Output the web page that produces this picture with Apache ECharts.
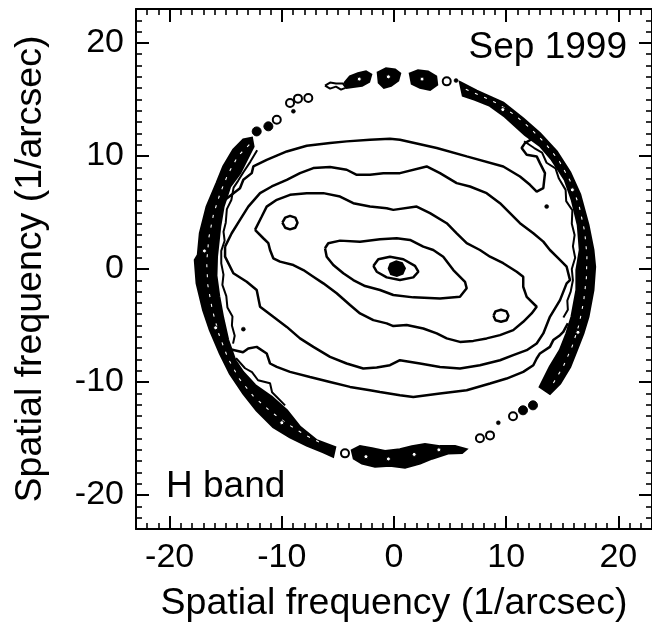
<!DOCTYPE html>
<html>
<head>
<meta charset="utf-8">
<script src="https://cdn.jsdelivr.net/npm/echarts@6/dist/echarts.min.js"></script>
<style>
html, body { margin: 0; padding: 0; background: #fff; }
#chart { width: 652px; height: 625px; }
</style>
</head>
<body>
<div id="chart"></div>
<script>
// ---- axes and labels ----
const axisMin = -23;
const axisMax = 23;
const majorTicks = [-20, -10, 0, 10, 20];
const axisTitle = 'Spatial frequency (1/arcsec)';
const epochLabel = 'Sep 1999';
const bandLabel = 'H band';

// ---- power spectrum contours, [u, v] in 1/arcsec ----
// peak (filled)
const contourPeak = [[-0.45,0.05],[-0.3,0.45],[0.2,0.65],[0.7,0.5],[0.95,0.05],[0.75,-0.4],[0.25,-0.6],[-0.25,-0.45],[-0.45,0.05]];
const contourLevel1 = [[-1.84,0.27],[-1.40,0.86],[-0.36,1.09],[0.83,0.86],[1.87,0.27],[2.17,-0.24],[1.72,-0.74],[0.53,-0.98],[-0.65,-0.74],[-1.54,-0.24],[-1.84,0.27]];
const contourLevel2 = [[-6.15,1.84],[-5.86,2.28],[-4.81,2.51],[-3.03,2.42],[-1.25,2.63],[0.24,2.72],[1.43,2.57],[2.61,1.98],[3.50,1.68],[4.39,1.09],[5.29,-0.09],[6.33,-1.13],[6.48,-1.71],[5.88,-2.46],[4.10,-2.60],[1.72,-2.51],[-0.06,-2.30],[-1.25,-1.86],[-2.58,-1.51],[-3.63,-0.98],[-4.52,-0.38],[-5.41,0.35],[-6.00,1.09],[-6.15,1.84]];
const contourLevel3 = [[-12.39,3.46],[-11.79,4.64],[-11.35,5.52],[-10.45,6.12],[-9.27,6.56],[-7.78,6.71],[-6.30,6.71],[-4.81,6.41],[-3.63,5.82],[-2.14,5.52],[-0.65,5.38],[-0.06,5.23],[2.02,5.52],[3.21,4.94],[4.70,4.05],[5.59,3.16],[6.48,2.28],[7.66,1.68],[8.56,1.09],[9.74,0.51],[10.94,-0.24],[11.52,-0.68],[11.52,-1.57],[11.83,-2.46],[12.72,-3.34],[12.27,-3.93],[11.52,-4.67],[10.63,-5.41],[9.45,-5.85],[8.26,-6.14],[7.07,-6.36],[5.88,-6.45],[4.70,-6.14],[3.81,-5.70],[2.61,-5.26],[1.13,-4.96],[-0.06,-5.05],[-0.65,-4.81],[-1.84,-4.52],[-3.03,-3.93],[-3.92,-3.19],[-5.11,-2.15],[-6.30,-1.27],[-7.19,-0.68],[-8.08,-0.09],[-8.97,0.35],[-10.16,0.65],[-10.76,0.95],[-11.05,1.68],[-11.20,2.28],[-11.65,2.72],[-12.39,3.46]];
const islandWest = [[-9.95,4.1],[-9.7,4.55],[-9.27,4.7],[-8.8,4.55],[-8.6,4.1],[-8.8,3.65],[-9.27,3.5],[-9.7,3.65],[-9.95,4.1]];
const islandEast = [[8.87,-4.14],[9.05,-3.75],[9.54,-3.6],[10.03,-3.75],[10.2,-4.14],[10.03,-4.53],[9.54,-4.67],[9.05,-4.53],[8.87,-4.14]];
const contourLevel4 = [[-15.06,1.98],[-14.47,3.16],[-13.73,4.34],[-12.99,5.52],[-11.94,6.71],[-10.90,7.30],[-9.56,7.89],[-8.38,8.48],[-7.19,8.93],[-5.70,9.02],[-4.22,8.78],[-3.32,8.33],[-2.14,8.33],[-0.95,8.48],[0.53,8.48],[2.91,9.07],[4.10,8.48],[5.59,7.60],[6.77,7.30],[8.26,6.71],[9.45,5.82],[10.34,4.94],[11.23,4.05],[12.42,3.16],[13.31,2.42],[13.90,1.68],[14.50,1.09],[15.39,0.20],[15.69,-0.98],[15.39,-1.27],[14.80,-2.75],[13.90,-4.23],[13.31,-5.70],[12.72,-6.59],[11.83,-7.18],[10.63,-7.62],[9.45,-8.07],[7.66,-8.51],[5.88,-8.80],[4.10,-8.66],[2.32,-8.36],[0.53,-8.07],[-0.36,-8.51],[-1.54,-8.71],[-2.74,-8.80],[-4.22,-8.36],[-5.70,-7.77],[-7.19,-6.89],[-8.38,-6.14],[-9.56,-5.12],[-10.76,-4.23],[-11.94,-3.34],[-12.24,-1.86],[-13.13,-1.13],[-14.32,-0.38],[-15.06,1.09],[-15.06,1.98]];
// outermost smooth level, opening into the noisy rim on both sides
const contourLevel5North = [[-15.5,5.7],[-15.06,6.12],[-13.73,7.15],[-13.43,7.89],[-12.68,8.48],[-12.54,9.07],[-11.35,9.66],[-9.56,10.40],[-7.78,10.90],[-5.70,11.14],[-4.22,11.29],[-2.14,11.44],[-0.36,11.52],[0.53,11.44],[3.81,10.70],[6.48,9.96],[9.74,9.07],[11.23,8.18],[12.12,7.45],[12.72,6.85],[13.31,7.15],[13.46,8.48],[13.01,9.37],[12.72,9.96],[11.83,10.11],[11.38,10.70],[11.67,11.14],[12.3,11.5]];
const contourLevel5South = [[15.5,-4.8],[15.09,-5.56],[14.80,-5.85],[14.20,-6.29],[13.90,-6.89],[13.01,-7.47],[12.72,-7.92],[12.42,-8.51],[11.52,-9.10],[10.04,-9.69],[8.56,-10.13],[6.48,-10.73],[4.10,-11.02],[1.72,-11.32],[0.53,-11.17],[-1.25,-10.88],[-2.14,-10.73],[-3.92,-10.43],[-5.70,-9.99],[-7.49,-9.55],[-9.27,-9.10],[-10.45,-8.66],[-11.05,-8.36],[-11.35,-7.47],[-12.24,-6.89],[-12.99,-7.03],[-13.46,-7.36],[-14.6,-7.1]];
const rimWiggleSouthWest = [[-14.08,-7.89],[-13.28,-8.78],[-12.66,-9.13],[-12.12,-9.84],[-11.05,-10.11],[-10.87,-10.90],[-9.71,-12.06]];

// ---- noisy rim at the cut-off frequency ----
const rimWest = [[-12.68,11.59],[-13.43,11.44],[-14.32,10.55],[-15.21,9.07],[-15.80,7.60],[-16.69,5.52],[-17.29,3.16],[-17.47,1.24],[-17.74,0.80],[-17.58,-1.27],[-17.00,-3.63],[-16.40,-5.41],[-15.51,-7.47],[-14.62,-9.25],[-13.43,-11.02],[-12.24,-12.50],[-10.76,-13.98],[-9.27,-14.87],[-7.78,-15.60],[-6.30,-16.20],[-5.44,-16.58],
  [-5.26,-15.78],[-6.89,-15.16],[-8.38,-13.98],[-9.56,-12.50],[-10.90,-11.32],[-12.39,-10.28],[-13.46,-9.13],[-14.17,-8.07],[-14.80,-6.29],[-15.25,-4.3],[-15.6,-2.4],[-15.85,-0.6],[-15.80,1.09],[-15.51,3.75],[-15.21,5.52],[-14.62,7.30],[-13.73,8.48],[-13.13,9.66],[-12.54,10.84]];
const rimEast = [[5.9,16.5],[7.37,15.75],[8.26,15.35],[9.74,14.7],[11.52,13.3],[13.01,12.0],[14.50,10.4],[15.69,8.55],[16.58,6.6],[17.32,3.9],[17.76,1.68],[17.91,0.2],[17.76,-1.86],[17.32,-4.23],[16.87,-5.70],[16.28,-7.18],[15.69,-8.66],[14.80,-10.13],[13.90,-11.02],
  [13.01,-10.43],[13.90,-8.66],[14.80,-7.18],[15.39,-5.70],[15.84,-4.23],[16.28,-1.86],[16.28,-0.09],[16.58,1.68],[16.40,3.90],[15.86,6.12],[15.24,7.89],[14.08,9.66],[13.01,10.90],[11.68,11.88],[9.89,13.48],[8.56,14.45],[7.22,14.98],[6.15,15.34]];
const rimNorthA = [[-4.37,16.49],[-3.92,17.02],[-3.21,17.29],[-2.50,17.46],[-2.05,17.20],[-2.23,16.58],[-2.85,16.22],[-3.65,16.13],[-4.19,16.05]];
const rimNorthB = [[-1.43,17.38],[-0.71,17.73],[0.09,17.64],[0.53,17.29],[0.36,16.67],[-0.27,16.22],[-0.89,16.05],[-1.34,16.49]];
const rimNorthC = [[1.43,17.29],[2.14,17.55],[3.03,17.46],[3.74,17.02],[3.83,16.31],[3.21,15.87],[2.32,16.05],[1.60,16.40]];
const rimNorthStrand = [[-6.15,16.22],[-5.70,15.96],[-5.17,16.13],[-4.72,15.87],[-4.28,16.05],[-4.55,16.40],[-5.17,16.40],[-5.70,16.49],[-6.15,16.22]];
const rimSouth = [[-3.74,-16.05],[-3.03,-15.69],[-1.96,-15.87],[-0.80,-16.13],[0.53,-15.96],[1.60,-15.69],[2.76,-15.51],[4.10,-15.69],[5.44,-15.69],[6.42,-15.96],[6.06,-16.25],[4.81,-16.30],[3.39,-16.76],[2.32,-17.20],[0.98,-17.55],[-0.36,-17.38],[-1.69,-17.46],[-2.85,-17.20],[-3.57,-16.76]];
// ragged inner edges of the dense rim
const rimWestInnerEdge = [[-12.2,10.5],[-12.8,9.5],[-13.4,8.6],[-13.9,7.8],[-14.3,7.2],[-14.5,6.1],[-14.9,5.3],[-15.0,4.1],[-15.2,3.3],[-15.1,2.5],[-15.4,1.6],[-15.4,0.5],[-15.2,-0.5],[-15.3,-1.4],[-14.95,-2.4],[-14.85,-3.4],[-14.4,-4.2],[-14.45,-5.0],[-14.2,-5.9],[-14.35,-6.6]];
const rimEastInnerEdge = [[11.6,11.3],[12.5,10.7],[13.2,10.3],[13.6,9.4],[14.4,8.9],[14.7,8.0],[15.3,7.0],[15.35,6.0],[15.9,5.2],[15.85,4.0],[16.1,3.0],[15.95,2.0],[16.15,1.0],[15.85,0.0],[15.95,-1.0],[15.75,-2.0],[15.45,-2.8],[15.5,-3.6],[15.1,-4.3]];
// pale streaks running inside the dense rim
const rimWestStreak = [[-12.9,11.0],[-13.9,10.0],[-14.8,8.4],[-15.5,6.7],[-16.1,4.8],[-16.5,2.8],[-16.7,0.6],[-16.6,-1.4],[-16.2,-3.6],[-15.6,-5.8],[-14.8,-7.9],[-13.8,-9.7],[-12.5,-11.3],[-11.0,-12.6],[-9.5,-13.7],[-7.9,-14.7],[-6.3,-15.5]];
const rimEastStreak = [[6.4,15.9],[7.8,15.3],[9.3,14.6],[10.8,13.6],[12.2,12.4],[13.5,11.1],[14.7,9.6],[15.7,7.8],[16.5,5.6],[17.0,3.3],[17.2,1.2],[17.15,-0.8],[16.9,-2.9],[16.5,-4.9],[15.9,-6.8],[15.1,-8.6],[14.2,-10.1]];

// gaps in the rim: isolated peaks
const rimDotsLarge = [[-12.24,12.17],[-11.20,12.62],[11.50,-12.50],[12.39,-12.06]];
const rimDotsSmall = [[-8.97,13.95],[5.53,16.67],[13.61,5.52],[-13.43,-5.32],[9.30,-13.60]];
const rimLoops = [[-10.45,13.21],[-9.27,14.69],[-8.56,15.07],[-7.64,15.13],[4.70,16.60],[-4.37,-16.31],[7.66,-14.98],[8.56,-14.72],[10.61,-13.03]];
// holes inside the clumps of the rim
const rimHoles = [[-3.1,16.8],[-0.5,17.0],[2.5,16.8],[-2.5,-16.6],[-0.5,-16.8],[1.8,-16.4],[4.0,-16.0],[-16.9,1.6],[-15.9,-5.2],[16.4,-5.6],[15.9,7.0],[-10.0,-13.6],[9.7,14.1]];

// ---- rendering ----
const FONT = '"Liberation Sans", Arial, Helvetica, sans-serif';
const INK = '#000';

function lineSeries(points, width, color, dash) {
  return {
    type: 'line', data: points, xAxisIndex: 0, yAxisIndex: 0,
    showSymbol: false, symbol: 'none', smooth: false, silent: true, animation: false,
    lineStyle: { color: color || INK, width: width || 2.5, type: dash || 'solid' }, z: 3
  };
}

function polygonSeries(shapes, z) {
  return {
    type: 'custom', coordinateSystem: 'cartesian2d', xAxisIndex: 0, yAxisIndex: 0,
    data: shapes.map(s => s[0]), silent: true, animation: false, z: z || 2,
    renderItem: (params, api) => {
      const pts = shapes[params.dataIndex].map(p => api.coord(p));
      return { type: 'polygon', shape: { points: pts }, style: { fill: INK, stroke: INK, lineWidth: 2.5 } };
    }
  };
}

function dotSeries(points, size, fill, border, z) {
  return {
    type: 'scatter', data: points, xAxisIndex: 0, yAxisIndex: 0,
    symbol: 'circle', symbolSize: size, silent: true, animation: false, z: z || 4,
    itemStyle: { color: fill, borderColor: INK, borderWidth: border, opacity: 1 }
  };
}

const tickFormatter = v => (majorTicks.indexOf(v) >= 0 ? String(v) : '');

function makeAxis(position, labelled, name, nameGap) {
  return {
    type: 'value', position: position, min: axisMin, max: axisMax,
    name: name || '', nameLocation: 'middle', nameGap: nameGap || 0,
    nameRotate: (position === 'left' && name) ? 90 : null,
    nameTextStyle: { color: INK, fontSize: 37.5, fontFamily: FONT },
    axisLine: { show: true, onZero: false, lineStyle: { color: INK, width: 2 } },
    axisTick: { show: true, inside: true, length: 13, lineStyle: { color: INK, width: 2 } },
    minorTick: { show: true, splitNumber: 10, length: 6, lineStyle: { color: INK, width: 1.6 } },
    splitLine: { show: false },
    minorSplitLine: { show: false },
    axisLabel: { show: labelled, color: INK, fontSize: 34, fontFamily: FONT, margin: 12, formatter: tickFormatter }
  };
}

const chart = echarts.init(document.getElementById('chart'), null, { renderer: 'canvas' });
chart.setOption({
  animation: false,
  backgroundColor: '#fff',
  grid: { left: 136, top: 9, width: 516, height: 520, containLabel: false, outerBoundsMode: 'none' },
  xAxis: [
    makeAxis('bottom', true, axisTitle, 56),
    makeAxis('top', false)
  ],
  yAxis: [
    makeAxis('left', true, axisTitle, 86),
    makeAxis('right', false)
  ],
  graphic: [
    { type: 'text', x: 627, y: 48, style: { text: epochLabel, font: '37px ' + FONT, fill: INK, align: 'right', verticalAlign: 'middle' } },
    { type: 'text', x: 166, y: 487, style: { text: bandLabel, font: '37px ' + FONT, fill: INK, align: 'left', verticalAlign: 'middle' } }
  ],
  series: [
    polygonSeries([rimWest, rimEast, rimNorthA, rimNorthB, rimNorthC, rimSouth, contourPeak], 2),
    lineSeries(rimWestStreak, 1.1, '#fff', [3, 7]),
    lineSeries(rimEastStreak, 1.1, '#fff', [3, 7]),
    lineSeries(rimWestInnerEdge, 2),
    lineSeries(rimEastInnerEdge, 2),
    lineSeries(rimNorthStrand, 2),
    lineSeries(contourLevel1),
    lineSeries(contourLevel2),
    lineSeries(contourLevel3),
    lineSeries(islandWest),
    lineSeries(islandEast),
    lineSeries(contourLevel4),
    lineSeries(contourLevel5North),
    lineSeries(contourLevel5South),
    lineSeries(rimWiggleSouthWest, 2),
    dotSeries(rimHoles, 4, '#fff', 1, 5),
    dotSeries(rimDotsLarge, 9, INK, 1, 4),
    dotSeries(rimDotsSmall, 4, INK, 0.5, 4),
    dotSeries(rimLoops, 8, '#fff', 2, 4)
  ]
});
</script>
</body>
</html>
